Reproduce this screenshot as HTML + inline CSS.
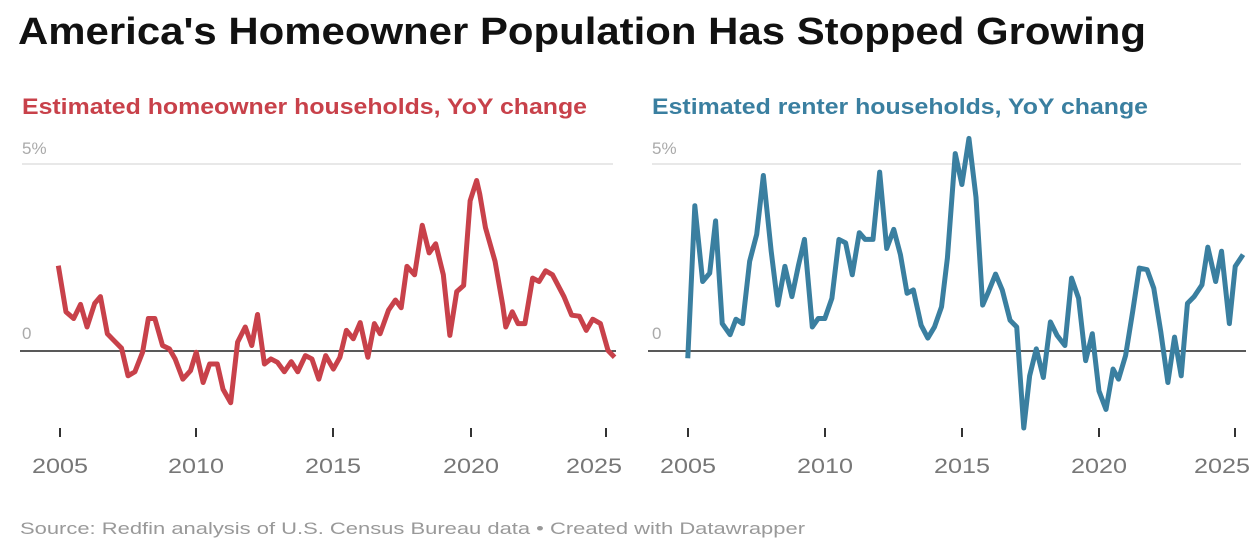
<!DOCTYPE html>
<html><head><meta charset="utf-8"><style>
body{margin:0;background:#fff;width:1254px;height:550px;overflow:hidden;font-family:"Liberation Sans",Arial,sans-serif}
</style></head><body>
<svg width="1254" height="550" xmlns="http://www.w3.org/2000/svg" font-family="Liberation Sans, Arial, sans-serif">
<text x="18" y="44" font-size="38" font-weight="bold" fill="#111" textLength="1128" lengthAdjust="spacingAndGlyphs">America's Homeowner Population Has Stopped Growing</text>
<text x="22" y="114" font-size="22" font-weight="bold" fill="#c8414a" textLength="565" lengthAdjust="spacingAndGlyphs">Estimated homeowner households, YoY change</text>
<text x="652" y="114" font-size="22" font-weight="bold" fill="#3a7fa0" textLength="496" lengthAdjust="spacingAndGlyphs">Estimated renter households, YoY change</text>
<g fill="#aaa" font-size="17"><text x="22" y="154">5%</text><text x="22" y="339">0</text><text x="652" y="154">5%</text><text x="652" y="339">0</text></g>
<line x1="22" y1="164" x2="613" y2="164" stroke="#e8e8e8" stroke-width="2"/>
<line x1="652" y1="164" x2="1241" y2="164" stroke="#e8e8e8" stroke-width="2"/>
<line x1="20" y1="351" x2="616" y2="351" stroke="#222" stroke-width="1.5"/>
<line x1="648" y1="351" x2="1246" y2="351" stroke="#222" stroke-width="1.5"/>
<g stroke="#333" stroke-width="2">
<line x1="60" y1="428" x2="60" y2="437"/><line x1="196" y1="428" x2="196" y2="437"/><line x1="333" y1="428" x2="333" y2="437"/><line x1="471" y1="428" x2="471" y2="437"/><line x1="606" y1="428" x2="606" y2="437"/>
<line x1="688" y1="428" x2="688" y2="437"/><line x1="825" y1="428" x2="825" y2="437"/><line x1="962" y1="428" x2="962" y2="437"/><line x1="1099" y1="428" x2="1099" y2="437"/><line x1="1235" y1="428" x2="1235" y2="437"/>
</g>
<g fill="#777" font-size="21" text-anchor="middle">
<text x="60" y="473" textLength="56" lengthAdjust="spacingAndGlyphs">2005</text><text x="196" y="473" textLength="56" lengthAdjust="spacingAndGlyphs">2010</text><text x="333" y="473" textLength="56" lengthAdjust="spacingAndGlyphs">2015</text><text x="471" y="473" textLength="56" lengthAdjust="spacingAndGlyphs">2020</text><text x="594" y="473" textLength="56" lengthAdjust="spacingAndGlyphs">2025</text>
<text x="688" y="473" textLength="56" lengthAdjust="spacingAndGlyphs">2005</text><text x="825" y="473" textLength="56" lengthAdjust="spacingAndGlyphs">2010</text><text x="962" y="473" textLength="56" lengthAdjust="spacingAndGlyphs">2015</text><text x="1099" y="473" textLength="56" lengthAdjust="spacingAndGlyphs">2020</text><text x="1222" y="473" textLength="56" lengthAdjust="spacingAndGlyphs">2025</text>
</g>
<g transform="translate(20,130) scale(0.3831,0.3367)">
<polyline fill="none" stroke="#c8414a" stroke-width="5" vector-effect="non-scaling-stroke" stroke-linejoin="round" points="100,403 120,540 140,560 158,518 175,585 195,515 210,495 228,605 245,625 265,648 282,730 300,718 320,660 335,560 352,560 372,640 390,650 405,680 425,740 445,715 460,660 478,750 495,695 515,695 530,770 550,810 568,630 588,585 605,640 620,548 638,695 655,680 672,690 690,718 708,688 725,718 745,670 762,680 780,740 798,670 818,710 835,675 852,595 870,620 888,572 908,675 925,575 940,605 962,535 980,505 995,528 1010,405 1030,430 1050,283 1068,365 1085,338 1105,430 1122,610 1140,480 1158,462 1175,210 1192,150 1200,190 1215,290 1240,390 1260,520 1268,585 1285,540 1300,575 1318,575 1338,440 1355,450 1372,418 1390,430 1420,495 1440,550 1460,553 1478,595 1495,562 1515,575 1535,655 1552,675"/>
</g>
<g transform="translate(640,130) scale(0.3916,0.3367)">
<polyline fill="none" stroke="#3a7fa0" stroke-width="5" vector-effect="non-scaling-stroke" stroke-linejoin="round" points="122,678 140,225 160,450 178,425 193,270 210,575 230,608 245,562 262,575 280,390 298,310 315,135 335,360 352,520 370,405 388,495 405,400 420,325 440,585 455,560 472,560 490,500 508,325 525,335 542,430 560,305 575,325 595,325 612,125 630,352 648,295 665,370 682,485 698,475 718,580 735,618 752,585 770,525 785,380 805,70 822,162 840,25 858,200 875,520 890,480 908,428 925,475 945,565 962,585 980,885 995,730 1012,650 1030,735 1048,570 1065,610 1085,640 1102,440 1120,500 1138,685 1155,605 1172,775 1190,830 1208,710 1222,740 1240,670 1258,540 1275,410 1295,415 1312,470 1330,600 1348,750 1365,615 1382,730 1398,515 1415,495 1435,460 1450,348 1470,450 1485,360 1505,575 1520,405 1540,370"/>
</g>
<text x="20" y="534" font-size="17" fill="#999" textLength="785" lengthAdjust="spacingAndGlyphs">Source: Redfin analysis of U.S. Census Bureau data • Created with Datawrapper</text>
</svg>
</body></html>
